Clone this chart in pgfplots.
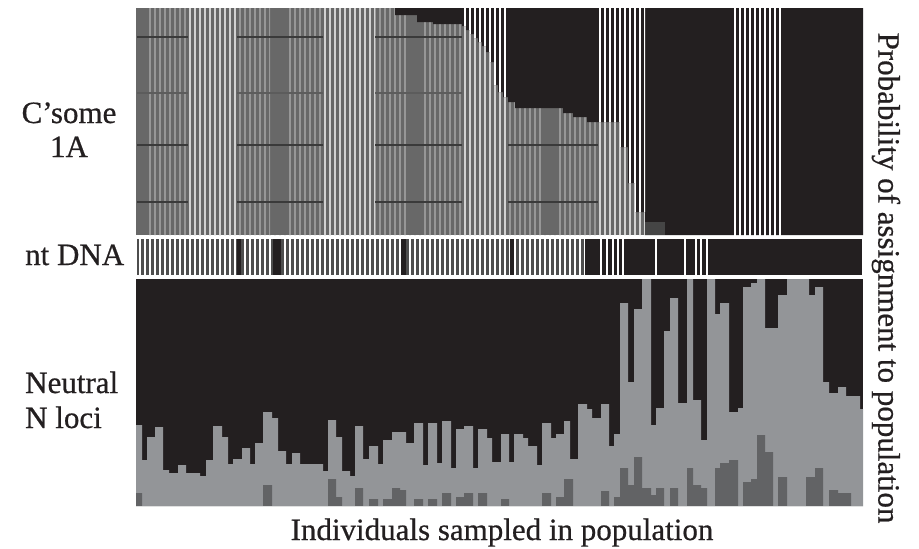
\documentclass[border=0pt]{standalone}
\usepackage{pgfplots}
\pgfplotsset{compat=1.18}
\usetikzlibrary{patterns.meta}
\usepackage{fontspec}
\setmainfont{Liberation Serif}
\newfontfamily\lblfont{Liberation Serif}[FakeBold=0.6]
\definecolor{cblack}{HTML}{231F20}
\definecolor{cgray}{HTML}{686868}
\definecolor{clight}{HTML}{939598}
\definecolor{cdark}{HTML}{626365}
\definecolor{cmt}{HTML}{4E4E4E}
\definecolor{cdim}{HTML}{979797}
\definecolor{cbright}{HTML}{D2D2D2}
\definecolor{chline}{HTML}{3A3A3A}
\definecolor{chline2}{HTML}{5C5C5C}
\definecolor{cblock}{HTML}{454545}
\newcommand{\lbl}{\lblfont\fontsize{31}{37}\selectfont\color{cblack}}
\pgfplotsset{panel/.style={scale only axis, width=727pt, xmin=136, xmax=863,
  y dir=reverse, hide axis, anchor=north west}}
\begin{document}
\begin{tikzpicture}
\path[use as bounding box] (0pt,0pt) rectangle (919pt,-549pt);

% ---------------- Chromosome 1A panel ----------------
\begin{axis}[panel, at={(136pt,-8pt)}, height=227pt, ymin=8, ymax=235]
% gray component (whole panel)
\addplot[fill=cgray, draw=none] coordinates {(136,8)(863,8)(863,235)(136,235)};
% individual separators, dim blocks
\addplot[draw=none, pattern={Lines[angle=90,distance=5pt,line width=1.2pt]}, pattern color=cdim] coordinates {
(148,235)(148,8)(188,8)(188,235)(237,235)(237,8)(270,8)(270,235)(287,235)(287,8)(323,8)(323,235)
(375,235)(375,8)(407,8)(407,235)(422,235)(422,8)(462,8)(462,235)(508,235)(508,8)(543,8)(543,235)
(558,235)(558,8)(598,8)(598,235)};
% individual separators, bright blocks
\addplot[draw=none, pattern={Lines[angle=90,distance=5pt,line width=1.2pt]}, pattern color=cbright] coordinates {
(188,235)(188,8)(237,8)(237,235)(323,235)(323,8)(375,8)(375,235)(462,235)(462,8)(508,8)(508,235)
(598,235)(598,8)(645,8)(645,235)};
% horizontal dark lines
\addplot[color=chline, line width=2.3pt, unbounded coords=jump] coordinates {
(137,37)(188,37)(190,nan)(237,37)(323,37)(325,nan)(375,37)(462,37)(464,nan)
(137,145)(188,145)(190,nan)(237,145)(323,145)(325,nan)(375,145)(462,145)(464,nan)(508,145)(598,145)(600,nan)
(137,202)(188,202)(190,nan)(237,202)(323,202)(325,nan)(375,202)(462,202)(464,nan)(508,202)(598,202)(600,nan)};
\addplot[color=chline2, line width=1.2pt, unbounded coords=jump] coordinates {
(137,93)(188,93)(190,nan)(237,93)(323,93)(325,nan)(375,93)(462,93)};
% black component
\addplot[fill=cblack, draw=none] coordinates {
(395,8)(395,15)(417,15)(417,22)(433,22)(433,24)(462,24)(462,26)(466,26)(466,30)(470,30)(470,34)
(474,34)(474,38)(478,38)(478,42)(482,42)(482,46)(486,46)(486,52)(490,52)(490,62)(494,62)(494,85)
(498,85)(498,92)(503,92)(503,97)(508,97)(508,102)(515,102)(515,108)(563,108)(563,113)(573,113)
(573,117)(587,117)(587,122)(620,122)(620,147)(628,147)(628,183)(635,183)(635,212)(645,212)
(645,235)(863,235)(863,8)};
% separators on black
\addplot[draw=none, pattern={Lines[angle=90,distance=5pt,line width=1.3pt]}, pattern color=white] coordinates {
(462,8)(462,26)(466,26)(466,30)(470,30)(470,34)(474,34)(474,38)(478,38)(478,42)(482,42)(482,46)
(486,46)(486,52)(490,52)(490,62)(494,62)(494,85)(498,85)(498,92)(503,92)(503,97)(508,97)(508,8)};
\addplot[draw=none, pattern={Lines[angle=90,distance=5pt,line width=1.3pt]}, pattern color=white] coordinates {
(598,8)(598,122)(620,122)(620,147)(628,147)(628,183)(635,183)(635,212)(645,212)(645,8)};
\addplot[draw=none, pattern={Lines[angle=90,distance=5pt,line width=1.3pt]}, pattern color=white] coordinates {
(733,8)(733,235)(783,235)(783,8)};
% third component
\addplot[fill=cblock, draw=none] coordinates {(645,222)(665,222)(665,235)(645,235)};
\end{axis}

% ---------------- mtDNA panel ----------------
\begin{axis}[panel, at={(136pt,-237pt)}, height=40pt, ymin=237, ymax=277]
\addplot[fill=cmt, draw=none] coordinates {(137,239)(585,239)(585,275)(137,275)};
\addplot[draw=none, pattern={Lines[angle=90,distance=5pt,line width=1.5pt]}, pattern color=white] coordinates {(137,239)(585,239)(585,275)(137,275)};
\addplot[fill=cblack, draw=none] coordinates {(237,239)(241,239)(241,275)(237,275)};
\addplot[fill=cblack, draw=none] coordinates {(273,239)(281,239)(281,275)(273,275)};
\addplot[fill=cblack, draw=none] coordinates {(401,239)(406,239)(406,275)(401,275)};
\addplot[fill=cblack, draw=none] coordinates {(510,239)(514,239)(514,275)(510,275)};
\addplot[fill=cblack, draw=none] coordinates {(585,239)(862,239)(862,275)(585,275)};
\addplot[ycomb, color=white, line width=1.6pt] coordinates {
(601,277)(607,277)(613,277)(618,277)(623,277)(656,277)(685,277)(696,277)(701,277)(707,277)};
\end{axis}

% ---------------- Neutral loci panel ----------------
\begin{axis}[panel, at={(136pt,-279pt)}, height=227pt, ymin=279, ymax=506]
\addplot[fill=cblack, draw=none] coordinates {(136,279)(863,279)(863,506)(136,506)};
\addplot[fill=clight, draw=none] coordinates {
(136,506)(136,425)(142,425)(142,460)(147,460)(147,437)(155,437)(155,427)(163,427)(163,470)(169,470)
(169,473)(178,473)(178,465)(186,465)(186,473)(200,473)(200,476)(206,476)(206,460)(213,460)(213,426)
(222,426)(222,437)(228,437)(228,464)(233,464)(233,459)(242,459)(242,448)(250,448)(250,464)(255,464)
(255,443)(263,443)(263,412)(272,412)(272,418)(278,418)(278,451)(286,451)(286,464)(292,464)(292,453)
(300,453)(300,464)(323,464)(323,471)(328,471)(328,420)(336,420)(336,437)(342,437)(342,471)(350,471)
(350,476)(355,476)(355,426)(363,426)(363,459)(369,459)(369,446)(378,446)(378,464)(383,464)(383,440)
(392,440)(392,432)(406,432)(406,443)(414,443)(414,423)(423,423)(423,465)(428,465)(428,423)(437,423)
(437,463)(442,463)(442,421)(451,421)(451,468)(456,468)(456,429)(464,429)(464,426)(473,426)(473,468)
(478,468)(478,429)(487,429)(487,438)(492,438)(492,462)(501,462)(501,434)(509,434)(509,462)(514,462)
(514,434)(523,434)(523,438)(528,438)(528,446)(537,446)(537,465)(542,465)(542,423)(551,423)(551,438)
(556,438)(556,434)(564,434)(564,421)(570,421)(570,459)(578,459)(578,404)(587,404)(587,409)(592,409)
(592,418)(601,418)(601,404)(609,404)(609,446)(614,446)(614,434)(620,434)(620,303)(628,303)(628,382)
(634,382)(634,309)(642,309)(642,279)(651,279)(651,425)(656,425)(656,408)(664,408)(664,331)(670,331)
(670,298)(678,298)(678,403)(687,403)(687,279)(693,279)(693,400)(701,400)(701,440)(707,440)(707,279)
(715,279)(715,314)(720,314)(720,303)(729,303)(729,412)(738,412)(738,408)(743,408)(743,287)(751,287)
(751,283)(757,283)(757,279)(765,279)(765,328)(778,328)(778,295)(787,295)(787,279)(809,279)(809,295)
(815,295)(815,287)(823,287)(823,382)(829,382)(829,393)(838,393)(838,387)(846,387)(846,396)(860,396)
(860,409)(863,409)(863,506)};
\addplot[fill=cdark, draw=none] coordinates {
(136,506)(136,493)(142,493)(142,506)(263,506)(263,485)(272,485)(272,506)(328,506)(328,479)(336,479)
(336,497)(342,497)(342,506)(355,506)(355,488)(363,488)(363,506)(369,506)(369,499)(378,499)(378,506)
(383,506)(383,499)(392,499)(392,488)(400,488)(400,490)(406,490)(406,506)(414,506)(414,499)(423,499)
(423,506)(428,506)(428,499)(437,499)(437,506)(442,506)(442,493)(451,493)(451,506)(456,506)(456,497)
(464,497)(464,493)(473,493)(473,506)(478,506)(478,493)(487,493)(487,506)(501,506)(501,499)(509,499)
(509,506)(542,506)(542,493)(551,493)(551,506)(556,506)(556,497)(564,497)(564,479)(573,479)(573,506)
(601,506)(601,491)(609,491)(609,506)(614,506)(614,497)(620,497)(620,468)(628,468)(628,485)(634,485)
(634,457)(642,457)(642,488)(651,488)(651,495)(656,495)(656,488)(664,488)(664,506)(670,506)(670,488)
(678,488)(678,506)(687,506)(687,468)(693,468)(693,485)(701,485)(701,488)(707,488)(707,506)(715,506)
(715,468)(720,468)(720,463)(729,463)(729,460)(738,460)(738,506)(743,506)(743,482)(751,482)(751,479)
(757,479)(757,435)(765,435)(765,452)(773,452)(773,506)(778,506)(778,477)(787,477)(787,506)(806,506)
(806,477)(815,477)(815,468)(823,468)(823,506)(829,506)(829,490)(838,490)(838,493)(851,493)(851,506)
(863,506)};
\end{axis}

% ---------------- labels ----------------
\node[anchor=base, font=\lbl] at (69pt,-123pt) {C’some};
\node[anchor=base, font=\lbl] at (69pt,-157pt) {1A};
\node[anchor=base west, inner sep=0pt, font=\lbl] at (25pt,-265pt) {nt DNA};
\node[anchor=base west, inner sep=0pt, font=\lbl] at (25pt,-393pt) {Neutral};
\node[anchor=base west, inner sep=0pt, font=\lbl] at (25pt,-428pt) {N loci};
\node[anchor=base, font=\lbl] at (502pt,-540pt) {Individuals sampled in population};
\node[rotate=-90, anchor=center, font=\lbl] at (886pt,-278pt) {Probability of assignment to population};
\end{tikzpicture}
\end{document}
